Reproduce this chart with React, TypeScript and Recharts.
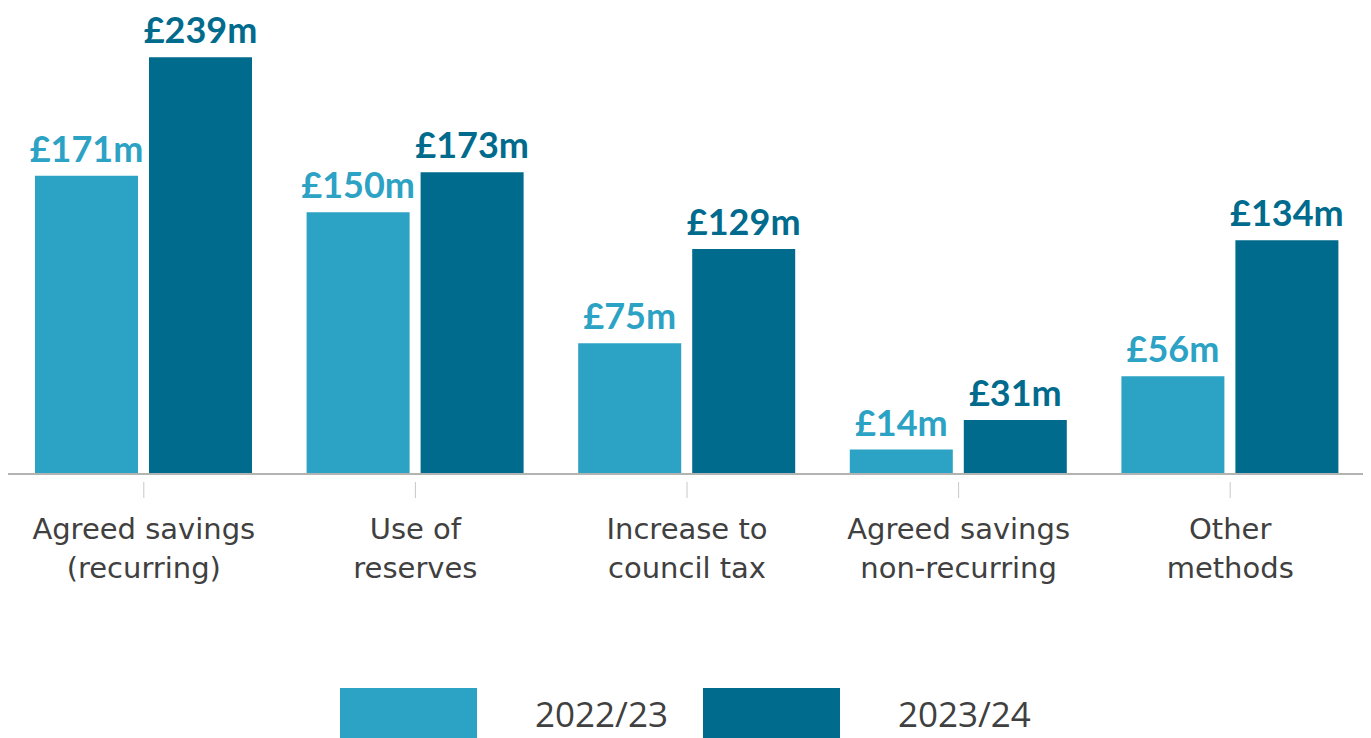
import React from 'react';
import { BarChart, Bar, XAxis, YAxis, LabelList } from 'recharts';

const categories = [
  'Agreed savings\n(recurring)',
  'Use of\nreserves',
  'Increase to\ncouncil tax',
  'Agreed savings\nnon-recurring',
  'Other\nmethods',
];
const values2223 = [171, 150, 75, 14, 56];
const values2324 = [239, 173, 129, 31, 134];
const seriesNames = ['2022/23', '2023/24'];

const LIGHT = '#2ca2c4';
const DARK = '#006b8d';

const data = categories.map((name, i) => ({
  name,
  a: values2223[i],
  b: values2324[i],
}));

const CategoryTick = (props: any) => {
  const { x, y, payload } = props;
  const lines = String(payload.value).split('\n');
  return (
    <g transform={`translate(${x},${y})`}>
      <line x1={0} x2={0} y1={0} y2={16} stroke="#c8c8c8" strokeWidth={1} />
      <text textAnchor="middle" fill="#404040" fontSize={29} fontFamily="'DejaVu Sans', sans-serif">
        {lines.map((l, i) => (
          <tspan key={i} x={0} y={57 + i * 39}>{l}</tspan>
        ))}
      </text>
    </g>
  );
};

const fmt = (v: any) => `£${v}m`;

const labelStyle = { fontFamily: 'Lato, sans-serif', fontWeight: 700, fontSize: 36 };

const App = () => {
  return (
    <div style={{ position: 'relative', width: 1363, height: 730, overflow: 'hidden' }}>
      <BarChart
        width={1358}
        height={730}
        data={data}
        margin={{ top: 16, right: 0, bottom: 0, left: 0 }}
        barCategoryGap={27}
        barGap={11}
      >
        <XAxis
          dataKey="name"
          interval={0}
          tickLine={false}
          axisLine={{ stroke: '#b3b3b3', strokeWidth: 2 }}
          tick={<CategoryTick />}
          height={264}
        />
        <YAxis hide domain={[0, 258]} />
        <Bar dataKey="a" name={seriesNames[0]} fill={LIGHT} isAnimationActive={false}>
          <LabelList dataKey="a" position="top" offset={14} formatter={fmt} fill={LIGHT} style={labelStyle} />
        </Bar>
        <Bar dataKey="b" name={seriesNames[1]} fill={DARK} isAnimationActive={false}>
          <LabelList dataKey="b" position="top" offset={14} formatter={fmt} fill={DARK} style={labelStyle} />
        </Bar>
      </BarChart>
      <div style={{ position: 'absolute', left: 332, top: 680, display: 'flex', alignItems: 'center', height: 50 }}>
        {seriesNames.map((n, i) => (
          <div key={n} style={{ display: 'flex', alignItems: 'center' }}>
            <div style={{ width: 137, height: 50, background: i === 0 ? LIGHT : DARK }} />
            <span style={{ marginLeft: 58, marginRight: i === 0 ? 35 : 0, fontFamily: "'Open Sans', sans-serif", fontSize: 35, color: '#404040' }}>{n}</span>
          </div>
        ))}
      </div>
    </div>
  );
};

export default App;
